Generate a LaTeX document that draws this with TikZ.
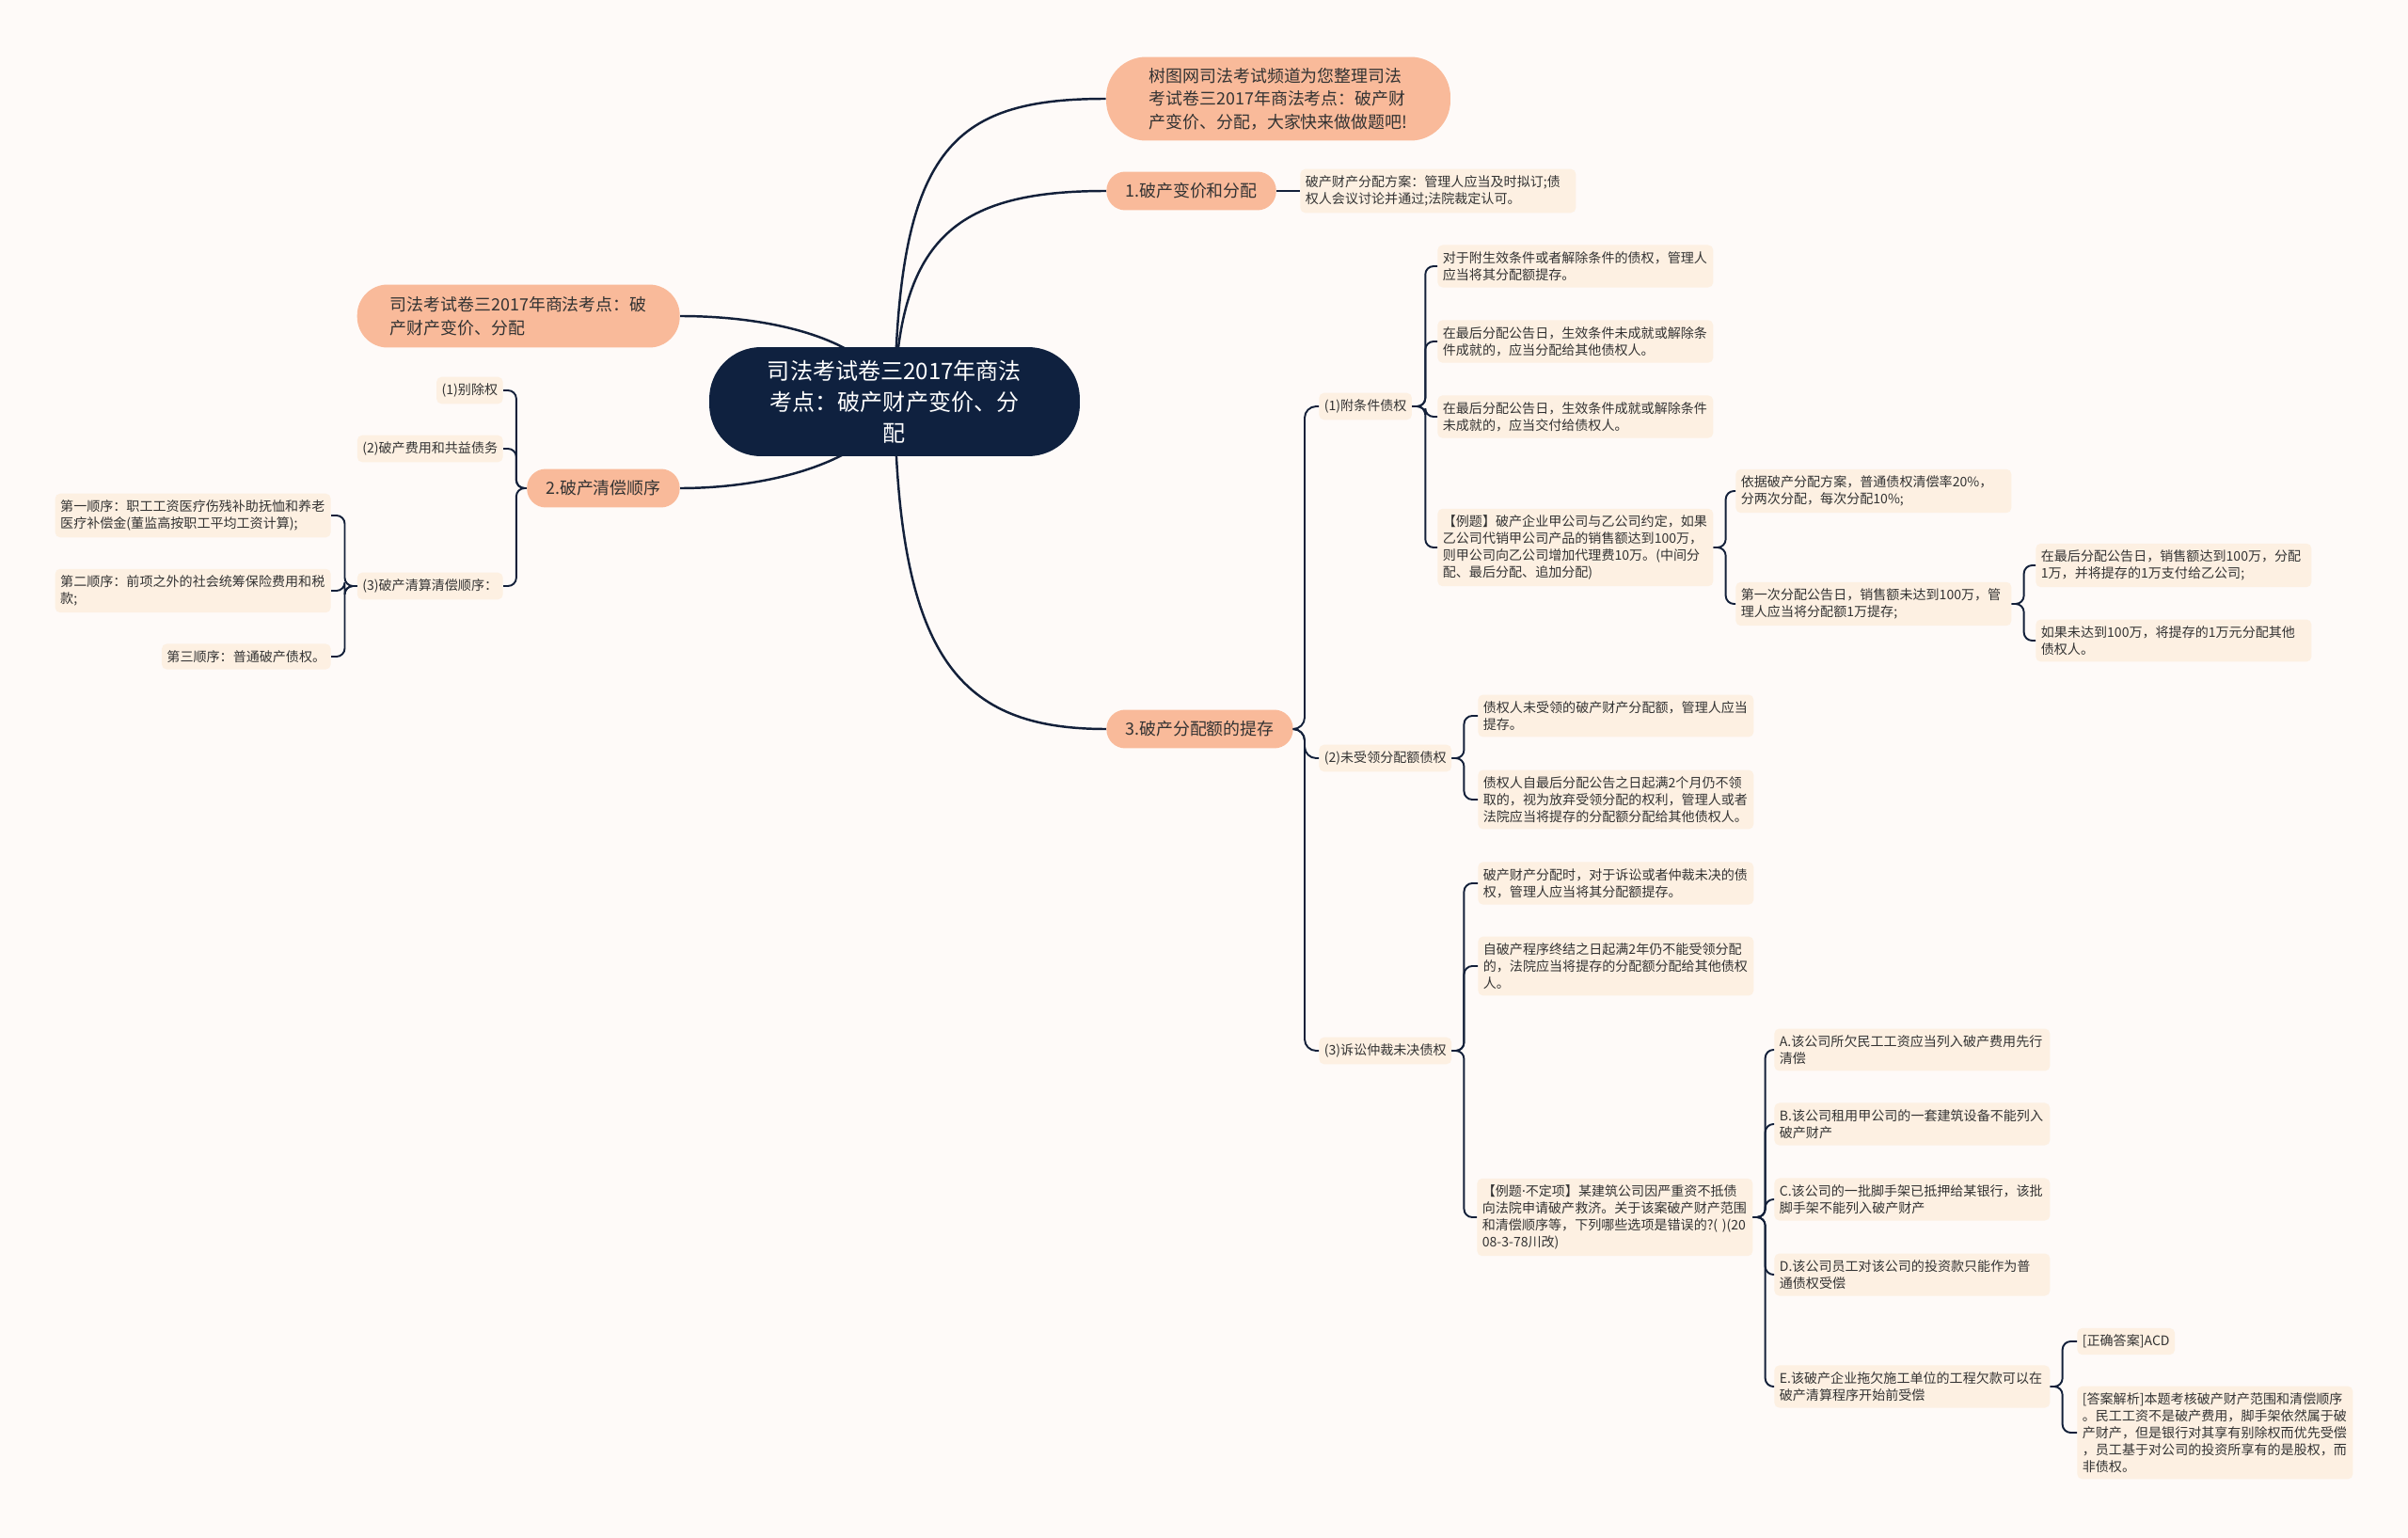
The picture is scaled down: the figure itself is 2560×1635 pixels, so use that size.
\documentclass[tikz,border=0pt]{standalone}
\usepackage{fontspec}
\setmainfont{Noto Sans CJK SC}
\newfontfamily\latinfont{Noto Sans}
\definecolor{paper}{HTML}{FEFAF8}
\definecolor{navy}{HTML}{0F213F}
\definecolor{peach}{HTML}{F9BA9A}
\definecolor{cream}{HTML}{FDF0E2}
\definecolor{ink}{HTML}{333333}
\definecolor{wire}{HTML}{13203A}
\pgfdeclarelayer{bg}
\pgfsetlayers{bg,main}
\begin{document}
\begin{tikzpicture}[x=0.02cm, y=-0.02cm,
    trunk/.style={draw=wire, line width=1.4pt},
    branch/.style={draw=wire, line width=1.1pt, rounded corners=5pt},
    rootbox/.style={fill=navy, text=white, font=\fontsize{13.7}{18.8}\selectfont, align=center,
        minimum width=7.88cm, minimum height=2.32cm, rounded corners=1.1cm},
    pill/.style={fill=peach, text=ink, font=\fontsize{10.2}{14}\selectfont, align=left,
        rounded corners=0.4cm, inner xsep=0.4cm, minimum height=0.82cm},
    leaf/.style={fill=cream, text=ink, font=\fontsize{8}{10.2}\selectfont, align=left,
        rounded corners=3pt, inner xsep=0.11cm, inner ysep=0.14cm},
    wide/.style={leaf, text width=5.64cm}]

    % Root
    \node[rootbox] (root) at (951,427) {司法考试卷三2017年商法\\考点：破产财产变价、分\\配};

    % Main topics
    \node[pill, minimum width=7.32cm, minimum height=1.78cm, rounded corners=0.85cm] (intro) at (1359,105)
        {树图网司法考试频道为您整理司法\\考试卷三2017年商法考点：破产财\\产变价、分配，大家快来做做题吧!};
    \node[pill, anchor=west] (sale) at (1176,203) {1.破产变价和分配};
    \node[pill, anchor=west] (keep) at (1176,775) {3.破产分配额的提存};
    \node[pill, anchor=east, minimum width=6.86cm, minimum height=1.34cm, rounded corners=0.65cm] (title) at (723,336)
        {司法考试卷三2017年商法考点：破\\产财产变价、分配};
    \node[pill, anchor=east] (order) at (723,519) {2.破产清偿顺序};

    % 1. Sale and distribution
    \node[wide, anchor=west] (plan) at (1382,203) {破产财产分配方案：管理人应当及时拟订;债\\权人会议讨论并通过;法院裁定认可。};

    % 2. Order of payment
    \node[leaf, anchor=east] (sep) at (535,415) {(1)别除权};
    \node[leaf, anchor=east] (cost) at (535,477) {(2)破产费用和共益债务};
    \node[leaf, anchor=east] (liq) at (535,623) {(3)破产清算清偿顺序：};
    \node[wide, anchor=east] (first) at (352,548) {第一顺序：职工工资医疗伤残补助抚恤和养老\\医疗补偿金(董监高按职工平均工资计算);};
    \node[wide, anchor=east] (second) at (352,628) {第二顺序：前项之外的社会统筹保险费用和税\\款;};
    \node[leaf, anchor=east] (third) at (352,698) {第三顺序：普通破产债权。};

    % 3. Reserved amounts
    \node[leaf, anchor=west] (cond) at (1402,432) {(1)附条件债权};
    \node[wide, anchor=west] (condA) at (1528,283) {对于附生效条件或者解除条件的债权，管理人\\应当将其分配额提存。};
    \node[wide, anchor=west] (condB) at (1528,363) {在最后分配公告日，生效条件未成就或解除条\\件成就的，应当分配给其他债权人。};
    \node[wide, anchor=west] (condC) at (1528,443) {在最后分配公告日，生效条件成就或解除条件\\未成就的，应当交付给债权人。};
    \node[wide, anchor=west] (condEx) at (1528,582) {【例题】破产企业甲公司与乙公司约定，如果\\乙公司代销甲公司产品的销售额达到100万，\\则甲公司向乙公司增加代理费10万。(中间分\\配、最后分配、追加分配)};
    \node[wide, anchor=west] (rate) at (1845,522) {依据破产分配方案，普通债权清偿率20\%，\\分两次分配，每次分配10\%;};
    \node[wide, anchor=west] (firstDay) at (1845,642) {第一次分配公告日，销售额未达到100万，管\\理人应当将分配额1万提存;};
    \node[wide, anchor=west] (reached) at (2164,601) {在最后分配公告日，销售额达到100万，分配\\1万，并将提存的1万支付给乙公司;};
    \node[wide, anchor=west] (missed) at (2164,681) {如果未达到100万，将提存的1万元分配其他\\债权人。};

    \node[leaf, anchor=west] (unclaim) at (1402,806) {(2)未受领分配额债权};
    \node[wide, anchor=west] (unclaimA) at (1571,761) {债权人未受领的破产财产分配额，管理人应当\\提存。};
    \node[wide, anchor=west] (unclaimB) at (1571,850) {债权人自最后分配公告之日起满2个月仍不领\\取的，视为放弃受领分配的权利，管理人或者\\法院应当将提存的分配额分配给其他债权人。};

    \node[leaf, anchor=west] (suit) at (1402,1117) {(3)诉讼仲裁未决债权};
    \node[wide, anchor=west] (suitA) at (1571,939) {破产财产分配时，对于诉讼或者仲裁未决的债\\权，管理人应当将其分配额提存。};
    \node[wide, anchor=west] (suitB) at (1571,1027) {自破产程序终结之日起满2年仍不能受领分配\\的，法院应当将提存的分配额分配给其他债权\\人。};
    \node[wide, anchor=west] (suitEx) at (1570,1294) {【例题{\latinfont ·}不定项】某建筑公司因严重资不抵债\\向法院申请破产救济。关于该案破产财产范围\\和清偿顺序等，下列哪些选项是错误的?( )(20\\08-3-78川改)};

    % Choices
    \node[wide, anchor=west] (optA) at (1886,1116) {A.该公司所欠民工工资应当列入破产费用先行\\清偿};
    \node[wide, anchor=west] (optB) at (1886,1195) {B.该公司租用甲公司的一套建筑设备不能列入\\破产财产};
    \node[wide, anchor=west] (optC) at (1886,1275) {C.该公司的一批脚手架已抵押给某银行，该批\\脚手架不能列入破产财产};
    \node[wide, anchor=west] (optD) at (1886,1355) {D.该公司员工对该公司的投资款只能作为普\\通债权受偿};
    \node[wide, anchor=west] (optE) at (1886,1474) {E.该破产企业拖欠施工单位的工程欠款可以在\\破产清算程序开始前受偿};
    \node[leaf, anchor=west] (answer) at (2208,1426) {[正确答案]ACD};
    \node[wide, anchor=west] (why) at (2208,1523) {[答案解析]本题考核破产财产范围和清偿顺序\\。民工工资不是破产费用，脚手架依然属于破\\产财产，但是银行对其享有别除权而优先受偿\\，员工基于对公司的投资所享有的是股权，而\\非债权。};

    % Brackets
    \draw[branch] (sale.east) -- (plan.west);
    \draw[branch] (order.west) -- ++(-11,0) |- (sep.east);
    \draw[branch] (order.west) -- ++(-11,0) |- (cost.east);
    \draw[branch] (order.west) -- ++(-11,0) |- (liq.east);
    \draw[branch] (liq.west) -- ++(-13,0) |- (first.east);
    \draw[branch] (liq.west) -- ++(-13,0) |- (second.east);
    \draw[branch] (liq.west) -- ++(-13,0) |- (third.east);
    \draw[branch, rounded corners=7pt] (keep.east) -- ++(12,0) |- (cond.west);
    \draw[branch, rounded corners=7pt] (keep.east) -- ++(12,0) |- (unclaim.west);
    \draw[branch, rounded corners=7pt] (keep.east) -- ++(12,0) |- (suit.west);
    \draw[branch] (cond.east) -- ++(14,0) |- (condA.west);
    \draw[branch] (cond.east) -- ++(14,0) |- (condB.west);
    \draw[branch] (cond.east) -- ++(14,0) |- (condC.west);
    \draw[branch] (cond.east) -- ++(14,0) |- (condEx.west);
    \draw[branch] (condEx.east) -- ++(13,0) |- (rate.west);
    \draw[branch] (condEx.east) -- ++(13,0) |- (firstDay.west);
    \draw[branch] (firstDay.east) -- ++(13,0) |- (reached.west);
    \draw[branch] (firstDay.east) -- ++(13,0) |- (missed.west);
    \draw[branch] (unclaim.east) -- ++(13,0) |- (unclaimA.west);
    \draw[branch] (unclaim.east) -- ++(13,0) |- (unclaimB.west);
    \draw[branch] (suit.east) -- ++(13,0) |- (suitA.west);
    \draw[branch] (suit.east) -- ++(13,0) |- (suitB.west);
    \draw[branch] (suit.east) -- ++(13,0) |- (suitEx.west);
    \draw[branch] (suitEx.east) -- ++(13,0) |- (optA.west);
    \draw[branch] (suitEx.east) -- ++(13,0) |- (optB.west);
    \draw[branch] (suitEx.east) -- ++(13,0) |- (optC.west);
    \draw[branch] (suitEx.east) -- ++(13,0) |- (optD.west);
    \draw[branch] (suitEx.east) -- ++(13,0) |- (optE.west);
    \draw[branch] (optE.east) -- ++(13,0) |- (answer.west);
    \draw[branch] (optE.east) -- ++(13,0) |- (why.west);

    % Paper and trunk curves
    \begin{pgfonlayer}{bg}
        \fill[paper] (0,0) rectangle (2560,1635);
        \draw[trunk] (root.center) .. controls (955,160) and (1010,105) .. (intro.west);
        \draw[trunk] (root.center) .. controls (955,250) and (1020,203) .. (sale.west);
        \draw[trunk] (root.center) .. controls (955,700) and (1020,775) .. (keep.west);
        \draw[trunk] (root.center) .. controls (930,360) and (820,336) .. (title.east);
        \draw[trunk] (root.center) .. controls (930,490) and (820,519) .. (order.east);
    \end{pgfonlayer}
\end{tikzpicture}
\end{document}
